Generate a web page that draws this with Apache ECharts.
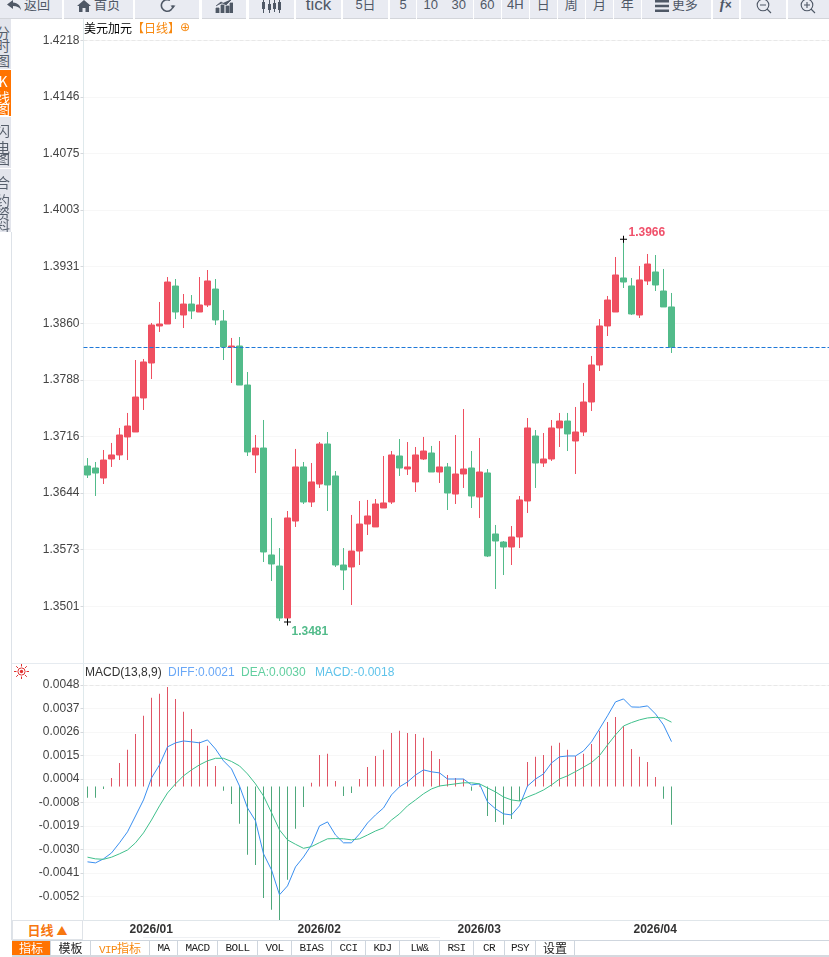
<!DOCTYPE html>
<html>
<head>
<meta charset="utf-8">
<title>美元加元 日线</title>
<script src="https://cdn.jsdelivr.net/npm/echarts@6/dist/echarts.min.js"></script>
<style>
html,body{margin:0;padding:0;background:#fff;overflow:hidden;width:829px;height:957px}
#chart{position:absolute;left:0;top:0;width:840px;height:957px}
.abs{position:absolute}
#bar{left:0;top:0;width:829px;height:19px;overflow:hidden;background:#fff}
.btn{position:absolute;top:-8px;height:26px;line-height:26px;background:#e9ebf2;border-bottom:1px solid #d3d5da;text-align:center;color:#4f5866;font:13px/26px "Liberation Sans","Noto Sans CJK SC";white-space:nowrap}
.btn svg{vertical-align:middle}
.side{position:absolute;left:0;width:11px;background:#e3e5ec;overflow:hidden;color:#555e6b;font:14px/1 "Noto Sans CJK SC"}
.side div{position:absolute;left:-4px;width:14px;text-align:center}
.tab{position:absolute;top:941px;height:14px;line-height:14px;border-right:1px solid #cfd6de;text-align:center;font:11px/14px "Liberation Mono";letter-spacing:-.6px;color:#222;white-space:nowrap}
.tab b{font:12px/14px "Noto Sans CJK SC";letter-spacing:0}
</style>
</head>
<body>
<div id="chart"></div>
<div id="bar" class="abs"></div>
<div id="sidebar"></div>
<div class="abs" style="left:11px;top:232px;width:1px;height:708px;background:#dde2e8"></div>
<div class="abs" style="left:12px;top:663px;width:817px;height:1px;background:#e6ebf0"></div>
<div class="abs" style="left:143px;top:937px;width:297px;height:1px;background:#eef0f3"></div>
<div class="abs" style="left:12px;top:920px;width:69px;height:18px;border:1px solid #dfe3e8;background:#fff;text-align:center;color:#f7770f;font:bold 13px/18px 'Noto Sans CJK SC'">日线 <span style="font-size:11px">▲</span></div>
<div class="abs" style="left:12px;top:940px;width:817px;height:1px;background:#cfd6de"></div>
<div class="abs" style="left:12px;top:955px;width:817px;height:2px;background:#d5d9df"></div>
<div id="tabs"></div>
<svg class="abs" style="left:14px;top:664px" width="15" height="15" viewBox="0 0 15 15">
  <circle cx="7.5" cy="7.5" r="3.6" fill="none" stroke="#e03030"/>
  <circle cx="7.5" cy="7.5" r="1.7" fill="#e03030"/>
  <path d="M7.5 0v2.5M7.5 12.5V15M0 7.5h2.5M12.5 7.5H15M2.2 2.2l1.8 1.8M11 11l1.8 1.8M2.2 12.8L4 11M11 4l1.8-1.8" stroke="#e03030" stroke-width="1"/>
</svg>
<script>
// 日K
const opens = [1.36787,1.36762,1.36635,1.36876,1.36927,1.37155,1.37218,1.37649,1.38092,1.38561,
  1.38586,1.39067,1.38700,1.38839,1.38738,1.38827,1.39029,1.38624,1.38295,1.38307,
  1.37813,1.36927,1.37015,1.35660,1.35520,1.34862,1.36090,1.36775,1.36331,1.36559,
  1.37066,1.36661,1.35533,1.35508,1.35710,1.36052,1.36015,1.36255,1.36331,1.36914,
  1.36749,1.36585,1.36876,1.36952,1.36711,1.36775,1.36432,1.36686,1.36762,1.36394,
  1.36699,1.35926,1.35824,1.35761,1.35888,1.36344,1.37167,1.36825,1.36876,1.37269,
  1.37357,1.37104,1.37218,1.37598,1.38067,1.38561,1.38738,1.39169,1.39068,1.38700,
  1.39131,1.39245,1.39004,1.38802];
const closes = [1.36673,1.36698,1.36863,1.36927,1.37180,1.37294,1.37661,1.38105,1.38573,1.38586,
  1.39118,1.38738,1.38839,1.38751,1.38827,1.39131,1.38637,1.38295,1.38307,1.37813,
  1.36965,1.37015,1.35698,1.35546,1.34862,1.36129,1.36775,1.36331,1.36585,1.37066,
  1.36547,1.35533,1.35470,1.35710,1.36052,1.36154,1.36306,1.36319,1.36927,1.36762,
  1.36775,1.36927,1.36977,1.36711,1.36775,1.36445,1.36686,1.36749,1.36407,1.36711,
  1.35647,1.35837,1.35761,1.35888,1.36357,1.37269,1.36825,1.36876,1.37269,1.37357,
  1.37193,1.37218,1.37598,1.38067,1.38561,1.38890,1.39207,1.39118,1.38713,1.39144,
  1.39346,1.39080,1.38802,1.38291];
const lows = [1.36635,1.36407,1.36559,1.36775,1.36863,1.36863,1.37218,1.37497,1.37889,1.38485,
  1.38586,1.38649,1.38535,1.38649,1.38738,1.38801,1.38573,1.38130,1.37839,1.37813,
  1.36914,1.36698,1.35571,1.35330,1.34824,1.34810,1.36015,1.36306,1.36268,1.36509,
  1.36217,1.35508,1.35216,1.35026,1.35533,1.35913,1.36015,1.36255,1.36306,1.36661,
  1.36673,1.36458,1.36863,1.36711,1.36572,1.36230,1.36306,1.36509,1.36255,1.36128,
  1.35634,1.35229,1.35406,1.35533,1.35748,1.36192,1.36509,1.36775,1.36851,1.37028,
  1.36977,1.36686,1.37167,1.37484,1.37991,1.38434,1.38738,1.39042,1.38700,1.38662,
  1.39080,1.39004,1.38802,1.38219];
const highs = [1.36888,1.36838,1.36990,1.37079,1.37269,1.37459,1.38130,1.38143,1.38599,1.38865,
  1.39181,1.39156,1.38966,1.38953,1.39181,1.39270,1.39156,1.38763,1.38409,1.38421,
  1.37978,1.37180,1.37370,1.36129,1.35748,1.36217,1.37003,1.36838,1.36825,1.37091,
  1.37218,1.36724,1.35748,1.36167,1.36344,1.36357,1.36369,1.36914,1.36977,1.37129,
  1.37091,1.37028,1.37155,1.37041,1.37104,1.36825,1.37180,1.37509,1.36977,1.37142,
  1.36749,1.36040,1.35837,1.36027,1.36407,1.37395,1.37243,1.37205,1.37370,1.37459,
  1.37459,1.37535,1.37839,1.38181,1.38649,1.38941,1.39435,1.39660,1.39169,1.39321,
  1.39473,1.39460,1.39283,1.38979];

// MACD
const diffValues = [-0.00357,-0.00362,-0.00343,-0.00315,-0.00267,-0.00215,-0.00140,-0.00064,0.00040,0.00102,
  0.00187,0.00206,0.00215,0.00211,0.00206,0.00220,0.00177,0.00121,0.00083,0.00002,
  -0.00102,-0.00163,-0.00319,-0.00395,-0.00513,-0.00471,-0.00381,-0.00334,-0.00277,-0.00187,
  -0.00168,-0.00230,-0.00267,-0.00267,-0.00225,-0.00173,-0.00135,-0.00102,-0.00040,-0.00002,
  0.00021,0.00054,0.00078,0.00069,0.00064,0.00035,0.00035,0.00035,0.00007,0.00012,
  -0.00073,-0.00106,-0.00130,-0.00135,-0.00092,0.00002,0.00035,0.00059,0.00111,0.00140,
  0.00144,0.00144,0.00168,0.00211,0.00272,0.00334,0.00400,0.00414,0.00376,0.00375,
  0.00381,0.00343,0.00291,0.00212];
const deaValues = [-0.00335,-0.00343,-0.00345,-0.00335,-0.00319,-0.00301,-0.00267,-0.00220,-0.00159,-0.00092,
  -0.00031,0.00012,0.00050,0.00078,0.00102,0.00121,0.00133,0.00133,0.00118,0.00097,
  0.00059,0.00012,-0.00045,-0.00124,-0.00206,-0.00253,-0.00274,-0.00293,-0.00285,-0.00266,
  -0.00248,-0.00247,-0.00248,-0.00253,-0.00248,-0.00230,-0.00211,-0.00196,-0.00159,-0.00130,
  -0.00092,-0.00064,-0.00035,-0.00012,0.00002,0.00007,0.00012,0.00017,0.00017,0.00012,
  -0.00007,-0.00026,-0.00050,-0.00064,-0.00069,-0.00050,-0.00035,-0.00017,0.00007,0.00035,
  0.00050,0.00070,0.00091,0.00113,0.00146,0.00196,0.00244,0.00286,0.00302,0.00315,
  0.00324,0.00327,0.00323,0.00304];
const macdValues = [-0.00054,-0.00054,-0.00012,0.00040,0.00111,0.00173,0.00248,0.00334,0.00419,0.00438,
  0.00471,0.00414,0.00353,0.00272,0.00211,0.00192,0.00097,-0.00021,-0.00083,-0.00177,
  -0.00324,-0.00372,-0.00528,-0.00584,-0.00632,-0.00442,-0.00201,-0.00097,0.00017,0.00149,
  0.00154,0.00026,-0.00045,-0.00031,0.00035,0.00092,0.00144,0.00173,0.00253,0.00263,
  0.00253,0.00248,0.00230,0.00168,0.00130,0.00054,0.00040,0.00035,-0.00021,0.00004,
  -0.00140,-0.00168,-0.00182,-0.00154,-0.00069,0.00116,0.00140,0.00149,0.00192,0.00206,
  0.00173,0.00144,0.00154,0.00201,0.00263,0.00305,0.00329,0.00286,0.00177,0.00140,
  0.00116,0.00045,-0.00059,-0.00182];

// 坐标刻度
const priceTicks = [1.4218,1.41463,1.40746,1.40029,1.39312,1.38595,1.37878,1.37161,1.36444,1.35727,1.3501];
const macdTicks = [0.0048,0.00369,0.00258,0.00147,0.00036,-0.00076,-0.00187,-0.00298,-0.00409,-0.0052];
const monthNames = ['2026/01','2026/02','2026/03','2026/04'];
const monthStarts = [5,26,46,68];
const lastPrice = 1.38291;
const highPoint = [67,1.3966];
const lowPoint = [25,1.3481];

// 右侧留空的位置一起算进类目
const categories = [];
for (let i = 0; i < 94; i++) {
    let m = monthStarts.indexOf(i);
    categories.push(m >= 0 ? monthNames[m] : '');
}
const candleData = opens.map((o, i) => [o, closes[i], lows[i], highs[i]]);

// 小刻度，每段五格
const priceMinorTicks = [];
for (let i = -1; i < priceTicks.length; i++) {
    let from = i < 0 ? priceTicks[0] + 0.00717 : priceTicks[i];
    for (let k = 0; k < 5; k++) priceMinorTicks.push(from - k * 0.00717 / 5);
}

const UP = '#ef4f60', DOWN = '#52bb8a';
const FONT = '"Liberation Sans", Arial, sans-serif';
const CJK = '"Noto Sans CJK SC", sans-serif';
const crossIcon = 'path://M3,0h1v3h3v1h-3v3h-1v-3h-3v-1h3z';

const yAxisBase = {
    type: 'value',
    scale: true,
    axisLine: {show: true, lineStyle: {color: '#dfe9ec', width: 1}},
    axisTick: {show: true, length: 3, lineStyle: {color: '#d5d8dc'}},
    axisLabel: {color: '#444', fontSize: 12, fontFamily: FONT, margin: 4, formatter: v => v.toFixed(4)},
    splitLine: {show: true, lineStyle: {color: '#eeeeee', type: 'dotted'}}
};

function legendText(left, text, color) {
    return {
        left: left, top: 667, padding: 0, text: text,
        textStyle: {color: color, fontSize: 12, fontWeight: 'normal', fontFamily: FONT}
    };
}

const option = {
    animation: false,
    backgroundColor: '#fff',
    title: [
        {
            left: 84, top: 22, padding: 0,
            text: '{a|美元加元}{b|【日线】}{c|⊕}',
            textStyle: {fontWeight: 'normal', rich: {
                a: {color: '#000', fontSize: 12, fontFamily: CJK},
                b: {color: '#f7880f', fontSize: 12, fontFamily: CJK},
                c: {color: '#f7880f', fontSize: 12, fontFamily: '"DejaVu Sans"'}
            }}
        },
        legendText(85, 'MACD(13,8,9)', '#333'),
        legendText(168, 'DIFF:0.0021', '#6aa8f7'),
        legendText(241, 'DEA:0.0030', '#62cfa0'),
        legendText(315, 'MACD:-0.0018', '#5fc3ea')
    ],
    grid: [
        {left: 83.5, top: 19, width: 752, height: 644},
        {left: 83.5, top: 664, width: 752, height: 256}
    ],
    xAxis: [
        {
            type: 'category', gridIndex: 0, data: categories, boundaryGap: true,
            axisLine: {show: false}, axisTick: {show: false}, axisLabel: {show: false}, splitLine: {show: false}
        },
        {
            type: 'category', gridIndex: 1, data: categories, boundaryGap: true,
            axisLine: {onZero: false, lineStyle: {color: '#e0e6ea'}},
            axisTick: {
                alignWithLabel: true, length: 4, lineStyle: {color: '#c8c8c8'},
                interval: (i, v) => v !== ''
            },
            axisLabel: {
                color: '#333', fontSize: 12, fontWeight: 'bold', fontFamily: FONT,
                align: 'left', margin: 3.5, padding: [0, 0, 0, 2],
                interval: (i, v) => v !== ''
            },
            splitLine: {show: false}
        }
    ],
    yAxis: [
        Object.assign({}, yAxisBase, {
            gridIndex: 0, min: 1.342916, max: 1.424498,
            axisTick: Object.assign({}, yAxisBase.axisTick, {customValues: priceTicks}),
            axisLabel: Object.assign({}, yAxisBase.axisLabel, {customValues: priceTicks})
        }),
        Object.assign({}, yAxisBase, {
            gridIndex: 1, min: -0.006323, max: 0.005793,
            axisTick: Object.assign({}, yAxisBase.axisTick, {customValues: macdTicks}),
            axisLabel: Object.assign({}, yAxisBase.axisLabel, {customValues: macdTicks})
        }),
        {
            type: 'value', gridIndex: 0, min: 1.342916, max: 1.424498,
            axisLine: {show: false}, axisLabel: {show: false}, splitLine: {show: false},
            axisTick: {show: true, length: 3, customValues: priceMinorTicks, lineStyle: {color: '#d5d8dc'}}
        }
    ],
    series: [
        {
            name: '美元加元', type: 'candlestick', xAxisIndex: 0, yAxisIndex: 0,
            data: candleData, barWidth: 6,
            itemStyle: {color: UP, color0: DOWN, borderColor: UP, borderColor0: DOWN, borderWidth: 1},
            markLine: {
                silent: true, symbol: 'none', precision: 6, label: {show: false},
                data: [
                    {yAxis: lastPrice, lineStyle: {color: '#1f78d8', type: 'dashed', width: 1}},
                    {yAxis: priceTicks[0], lineStyle: {color: '#e8e8e8', type: 'dashed', width: 1}}
                ]
            },
            markPoint: {
                silent: true, symbol: crossIcon, symbolSize: 7,
                itemStyle: {color: '#000'},
                data: [
                    {
                        coord: highPoint,
                        label: {show: true, formatter: '1.3966', position: [8.5, -9.5], color: '#f0506a', fontSize: 12, fontWeight: 'bold', fontFamily: FONT}
                    },
                    {
                        coord: lowPoint,
                        label: {show: true, formatter: '1.3481', position: [7.5, 7], color: '#52bb8a', fontSize: 12, fontWeight: 'bold', fontFamily: FONT}
                    }
                ]
            }
        },
        {
            name: 'MACD', type: 'bar', xAxisIndex: 1, yAxisIndex: 1,
            data: macdValues, barWidth: 1,
            itemStyle: {color: p => p.value >= 0 ? '#e05565' : '#4fa87c'},
            markLine: {
                silent: true, symbol: 'none', precision: 6, label: {show: false},
                data: [{yAxis: macdTicks[0], lineStyle: {color: '#e8e8e8', type: 'dashed', width: 1}}]
            }
        },
        {
            name: 'DIFF', type: 'line', xAxisIndex: 1, yAxisIndex: 1,
            data: diffValues, showSymbol: false, lineStyle: {color: '#3a8ff0', width: 1}
        },
        {
            name: 'DEA', type: 'line', xAxisIndex: 1, yAxisIndex: 1,
            data: deaValues, showSymbol: false, lineStyle: {color: '#3fc08c', width: 1}
        }
    ]
};

const myChart = echarts.init(document.getElementById('chart'));
myChart.setOption(option);

// 顶部工具栏
const icons = {
    back: '<svg width="15" height="11" viewBox="0 0 15 11"><path d="M6 0L0 4.5 6 9V6c4 0 6 1 8 4-.5-4.5-3-7-8-7.5z" fill="#4f5866"/></svg>',
    home: '<svg width="14" height="12" viewBox="0 0 14 12"><path d="M7 0L0 6h2v6h3.5V8h3v4H12V6h2z" fill="#4f5866"/></svg>',
    redo: '<svg width="17" height="17" viewBox="0 0 17 17"><path d="M14 8.5A5.8 5.8 0 1 1 11 3.4" fill="none" stroke="#4f5866" stroke-width="1.6"/><path d="M11.5 8.5h5l-2.5 3z" fill="#4f5866"/></svg>',
    bars: '<svg width="18" height="14" viewBox="0 0 18 14"><path d="M1 14V9h3v5zM6 14V6h3v8zM11 14V7h3v7zM15 14V4h3v10zM1 7l5-4 5 3 6-6" fill="#4f5866" stroke="#4f5866" stroke-width=".8"/></svg>',
    candle: '<svg width="21" height="14" viewBox="0 0 21 14"><g fill="#4f5866"><rect x="1" y="3" width="3" height="7"/><rect x="2" y="0" width="1" height="14"/><rect x="7" y="5" width="3" height="6"/><rect x="8" y="1" width="1" height="13"/><rect x="12" y="4" width="3" height="6"/><rect x="13" y="0" width="1" height="13"/><rect x="17" y="3" width="3" height="8"/><rect x="18" y="0" width="1" height="14"/></g></svg>',
    menu: '<svg width="14" height="12" viewBox="0 0 14 12"><path d="M0 0h14v2.4H0zM0 4.8h14v2.4H0zM0 9.6h14V12H0z" fill="#4f5866"/></svg>',
    minus: '<svg width="16" height="16" viewBox="0 0 16 16"><circle cx="7" cy="7" r="5.8" fill="none" stroke="#4f5866" stroke-width="1.1"/><path d="M4 7h6M11 11l4 4" stroke="#4f5866" stroke-width="1.1"/></svg>',
    plus: '<svg width="16" height="16" viewBox="0 0 16 16"><circle cx="7" cy="7" r="5.8" fill="none" stroke="#4f5866" stroke-width="1.1"/><path d="M4 7h6M7 4v6M11 11l4 4" stroke="#4f5866" stroke-width="1.1"/></svg>'
};
const toolBtns = [
    [0, 62, '<span style="position:relative;left:-2.5px">' + icons.back + '<span style="margin-left:2px">返回</span></span>'], [64, 69, icons.home + '<span style="margin-left:3px">首页</span>'],
    [135, 64, icons.redo], [202, 44, icons.bars], [249, 45, icons.candle],
    [296, 45, '<span style="font-size:17px">tick</span>'], [343, 45, '5日'], [390, 26, '5'],
    [417, 27.5, '10'], [445, 27.5, '30'], [473.5, 27.5, '60'], [501.5, 27.5, '4H'],
    [530, 26.5, '日'], [557.5, 27.5, '周'], [586, 27, '月'], [614, 26.5, '年'],
    [641.5, 69.5, icons.menu + '<span style="margin-left:3px">更多</span>'],
    [712.5, 26.5, '<b style="font:italic bold 15px \'Liberation Serif\'">f</b><b style="font-size:12px">×</b>'],
    [741, 45, icons.minus], [787.5, 41.5, icons.plus]
];
document.getElementById('bar').innerHTML = toolBtns.map(b =>
    '<div class="btn" style="left:' + b[0] + 'px;width:' + b[1] + 'px">' + b[2] + '</div>').join('');

// 左侧竖排标签
const sideTabs = [
    [19, 50, ['分', '时', '图'], [6, 19, 34], 0],
    [70, 46, ['K', '线', '图'], [4, 20, 32], 1],
    [117, 51, ['闪', '电', '图'], [6, 23, 34], 0],
    [169, 63, ['合', '约', '资', '料'], [6, 24, 37, 50], 0]
];
document.getElementById('sidebar').innerHTML = sideTabs.map(t =>
    '<div class="side" style="top:' + t[0] + 'px;height:' + t[1] + 'px;' + (t[4] ? 'background:#ff7300;color:#fff' : '') + '">' +
    t[2].map((c, i) => '<div style="top:' + t[3][i] + 'px">' + c + '</div>').join('') + '</div>').join('');

// 底部指标栏
const bottomTabs = [
    [12, 39, '<b style="color:#fff">指标</b>', '#ff7300'], [51, 40, '<b>模板</b>'],
    [91, 59, '<span style="color:#f7880f">VIP<b style="color:#f7880f">指标</b></span>'],
    [150, 28, 'MA'], [178, 40, 'MACD'], [218, 40, 'BOLL'], [258, 34, 'VOL'], [292, 40, 'BIAS'],
    [332, 34, 'CCI'], [366, 34, 'KDJ'], [400, 40, 'LW&amp;'], [440, 34, 'RSI'], [474, 31, 'CR'],
    [505, 31, 'PSY'], [536, 39, '<b>设置</b>']
];
document.getElementById('tabs').innerHTML = bottomTabs.map(t =>
    '<div class="tab" style="left:' + t[0] + 'px;width:' + (t[1] - 1) + 'px;' + (t[3] ? 'background:' + t[3] : '') + '">' + t[2] + '</div>').join('');
</script>
</body>
</html>
